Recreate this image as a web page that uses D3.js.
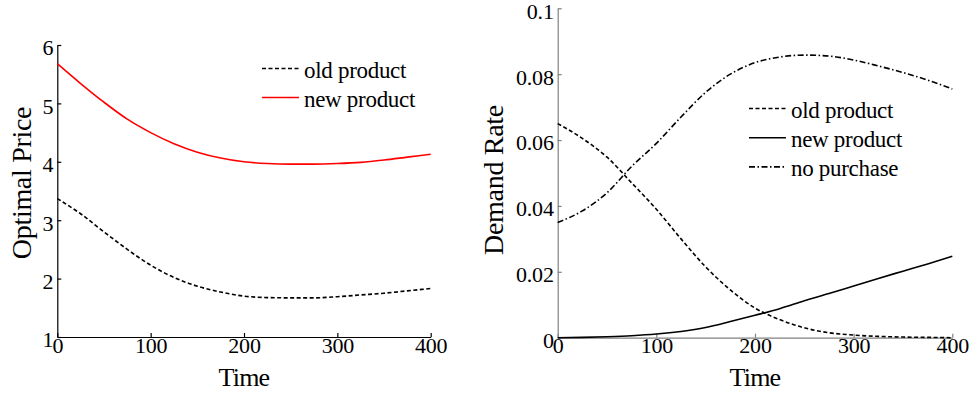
<!DOCTYPE html>
<html>
  <head>
    <meta charset="utf-8">
    <title>Optimal Price and Demand Rate</title>
    <style>
      body { margin: 0; background: #fff; }
      svg { display: block; }
      svg text { font-family: "Liberation Serif", "Times New Roman", Times, serif; fill: #000; }
      .tick text { font-size: 22px; letter-spacing: -0.2px; }
      .label { font-size: 28px; letter-spacing: -0.3px; }
      .xlabel { font-size: 26px; letter-spacing: -0.8px; }
      .legend text { font-size: 23px; letter-spacing: -0.3px; }
    </style>
  </head>
  <body>
    <div id="chart"></div>
    <script src="https://cdn.jsdelivr.net/npm/d3@7"></script>
    <script>
      // values
      var time = [0, 25, 50, 75, 100, 125, 150, 175, 200, 225, 250, 275, 300, 325, 350, 375, 400];

      var priceOld = [3.37, 3.11, 2.80, 2.50, 2.23, 2.02, 1.87, 1.77, 1.70, 1.675, 1.67, 1.67, 1.69, 1.72, 1.75, 1.79, 1.83];
      var priceNew = [5.68, 5.34, 5.02, 4.73, 4.50, 4.31, 4.165, 4.065, 4.00, 3.97, 3.96, 3.96, 3.97, 3.99, 4.03, 4.08, 4.13];

      var demandOld = [0.065, 0.0605, 0.0548, 0.047, 0.039, 0.030, 0.0215, 0.0145, 0.0090, 0.0055, 0.0030, 0.0015, 0.0008, 0.0004, 0.0002, 0.0001, 0.0];
      var demandNew = [0.0, 0.0001, 0.0003, 0.0006, 0.0011, 0.0019, 0.0031, 0.0049, 0.0068, 0.0088, 0.0112, 0.0134, 0.0157, 0.0180, 0.0202, 0.0224, 0.0247];
      var demandNone = [0.035, 0.0385, 0.044, 0.052, 0.059, 0.067, 0.0745, 0.080, 0.0835, 0.0852, 0.0858, 0.0855, 0.0843, 0.0825, 0.0805, 0.0782, 0.0755];

      var timeTicks = [0, 100, 200, 300, 400];
      var priceTicks = [1, 2, 3, 4, 5, 6];
      var demandTicks = [0, 0.02, 0.04, 0.06, 0.08, 0.1];

      var width = 972, height = 398;
      var serif = '"Liberation Serif", "Times New Roman", Times, serif';

      var svg = d3.select('#chart').append('svg')
        .attr('width', width)
        .attr('height', height)
        .attr('font-family', serif);

      var dashed = '4,2.5';
      var dashDot = '6,2.5,1.5,2.5';

      function drawPanel(opts) {
        var x = d3.scaleLinear().domain([0, 400]).range(opts.xRange);
        var y = d3.scaleLinear().domain(opts.yDomain).range(opts.yRange);
        var g = svg.append('g');

        var xAxis = g.append('g')
          .attr('transform', 'translate(0,' + opts.yRange[0] + ')')
          .call(d3.axisBottom(x).tickValues(timeTicks).tickSizeInner(-4).tickSizeOuter(0).tickPadding(0));
        var yAxis = g.append('g')
          .attr('transform', 'translate(' + opts.xRange[0] + ',0)')
          .call(d3.axisLeft(y).tickValues(opts.yTicks).tickFormat(opts.fmt).tickSizeInner(-4).tickSizeOuter(0).tickPadding(4));

        [xAxis, yAxis].forEach(function(a) {
          a.attr('font-family', serif).attr('font-size', null);
          a.selectAll('path, line').attr('stroke', opts.axisColor).attr('stroke-width', 1.2);
          a.selectAll('text').attr('fill', '#000').style('font-family', serif);
        });
        yAxis.selectAll('text').attr('dy', '0.45em');

        var line = d3.line()
          .x(function(d) { return x(d[0]); })
          .y(function(d) { return y(d[1]); })
          .curve(d3.curveMonotoneX);

        opts.series.forEach(function(s) {
          g.append('path')
            .datum(time.map(function(t, i) { return [t, s.values[i]]; }))
            .attr('d', line)
            .attr('fill', 'none')
            .attr('stroke', s.color)
            .attr('stroke-width', 1.6)
            .attr('stroke-dasharray', s.dash);
        });

        g.append('text')
          .attr('class', 'xlabel')
          .attr('x', (opts.xRange[0] + opts.xRange[1]) / 2)
          .attr('y', 386)
          .attr('text-anchor', 'middle')
          .style('font-family', serif)
          .text('Time');

        g.append('text')
          .attr('class', 'label')
          .attr('transform', 'translate(' + opts.yLabelX + ',' + opts.yLabelY + ') rotate(-90)')
          .attr('text-anchor', 'middle')
          .style('font-family', serif)
          .text(opts.yLabel);

        var legend = g.selectAll('.legend')
          .data(opts.series)
          .enter()
          .append('g')
          .attr('class', 'legend')
          .attr('transform', function(d, i) {
            return 'translate(' + opts.legendX + ',' + (opts.legendY + i * opts.legendStep) + ')';
          });
        legend.append('line')
          .attr('x1', 0).attr('x2', 37)
          .attr('y1', 0).attr('y2', 0)
          .attr('stroke', function(d) { return d.color; })
          .attr('stroke-width', 1.6)
          .attr('stroke-dasharray', function(d) { return d.dash; });
        legend.append('text')
          .attr('x', 42)
          .attr('y', 9)
          .style('font-family', serif)
          .text(function(d) { return d.name; });
      }

      drawPanel({
        xRange: [57.3, 430.7],
        yDomain: [1, 6],
        yRange: [337, 45],
        yTicks: priceTicks,
        fmt: d3.format('d'),
        axisColor: '#000',
        yLabel: 'Optimal Price',
        yLabelX: 31, yLabelY: 183,
        legendX: 262, legendY: 68.5, legendStep: 29,
        series: [
          { name: 'old product', values: priceOld, color: '#000', dash: dashed },
          { name: 'new product', values: priceNew, color: '#ff0000', dash: null }
        ]
      });

      drawPanel({
        xRange: [557.7, 952.3],
        yDomain: [0, 0.1],
        yRange: [337.7, 8.3],
        yTicks: demandTicks,
        fmt: function(d) { return d === 0 ? '0' : String(+d.toFixed(2)); },
        axisColor: '#808080',
        yLabel: 'Demand Rate',
        yLabelX: 503, yLabelY: 180,
        legendX: 749, legendY: 108.5, legendStep: 29.2,
        series: [
          { name: 'old product', values: demandOld, color: '#000', dash: dashed },
          { name: 'new product', values: demandNew, color: '#000', dash: null },
          { name: 'no purchase', values: demandNone, color: '#000', dash: dashDot }
        ]
      });
    </script>
  </body>
</html>
